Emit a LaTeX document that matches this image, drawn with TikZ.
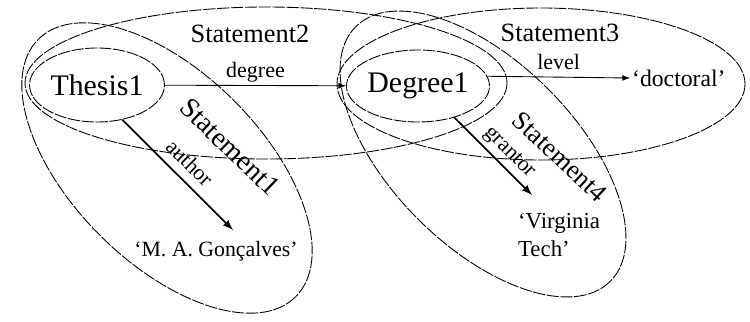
\documentclass[tikz,border=0pt]{standalone}
\usepackage{fontspec}
\setmainfont{Liberation Serif}
\usetikzlibrary{shapes.geometric}
\begin{document}
\begin{tikzpicture}[x=0.02cm, y=-0.02cm, >=latex]
        \useasboundingbox (0,0) rectangle (750,321);
        \tikzset{
            stmt/.style={line width=0.5pt, dash pattern=on 7pt off 0.9pt},
            res/.style={stmt, draw, ellipse, inner sep=0pt, font=\fontsize{17}{20}\selectfont},
            lit/.style={inner sep=1pt, font=\fontsize{13}{16}\selectfont},
            prop/.style={inner sep=0pt, text height=9pt, text depth=3pt, font=\fontsize{12.5}{15}\selectfont},
            stname/.style={inner sep=0pt, font=\fontsize{15}{18}\selectfont}
        }
        % Draw resources
        \node[res, minimum width=2.7cm, minimum height=1.48cm] (thesis) at (97,85) {Thesis1};
        \node[res, minimum width=2.8cm, minimum height=1.44cm] (degree) at (418,86) {Degree1};
        % Draw literals
        \node[lit, anchor=west, font=\fontsize{13.5}{16}\selectfont] (doctoral) at (630,78) {‘doctoral’};
        \node[lit, anchor=north, font=\fontsize{12.4}{15}\selectfont] (goncalves) at (216,239) {‘M. A. Gonçalves’};
        \node[lit, anchor=north west, align=left] (vtech) at (516,211) {‘Virginia\\Tech’};
        % Draw statements
        \draw[stmt, rotate around={-45:(167,168)}] (167,168) ellipse [x radius=182, y radius=95];
        \draw[stmt] (266,83) ellipse [x radius=241, y radius=76];
        \draw[stmt] (541,84) ellipse [x radius=204, y radius=76];
        \draw[stmt, rotate around={-45:(483,154)}] (483,154) ellipse [x radius=180, y radius=92];
        % Label statements
        \node[stname, rotate=-44, font=\fontsize{16}{19}\selectfont] (st1) at (230,147) {Statement1};
        \node[stname] (st2) at (250,34) {Statement2};
        \node[stname] (st3) at (560,33) {Statement3};
        \node[stname, rotate=-43] (st4) at (560,157) {Statement4};
        % Draw properties
        \draw[->, line width=0.5pt] (thesis) -- (degree)
            node[prop, midway, above=1.2pt] (degreelbl) {degree};
        \draw[->, line width=0.5pt] (degree.8) -- (doctoral.west)
            node[prop, midway, above=1.2pt] (levellbl) {level};
        \draw[->, line width=1pt] (thesis.-54) -- ([shift={(17,-9)}]goncalves.north)
            node[prop, midway, sloped, above=2pt] (authorlbl) {author};
        \draw[->, line width=1pt] (degree.-41) -- ([shift={(16,-16)}]vtech.north west)
            node[prop, pos=0.58, sloped, above=2pt] (grantorlbl) {grantor};
\end{tikzpicture}
\end{document}
